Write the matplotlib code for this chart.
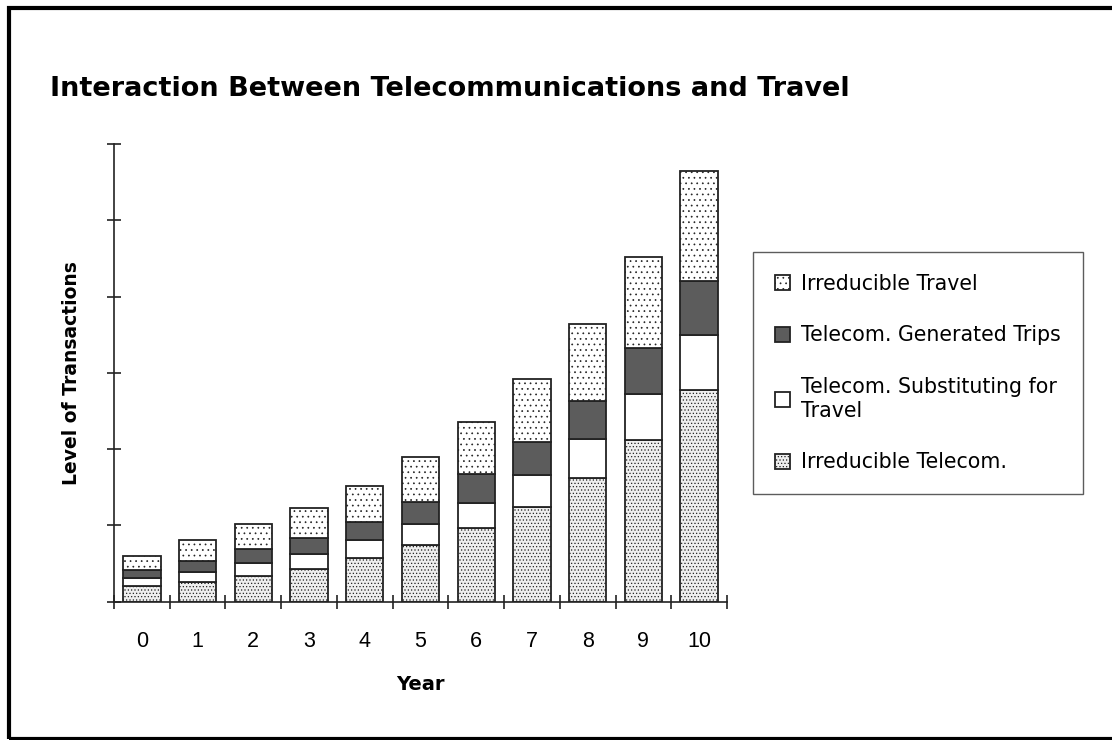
import matplotlib
matplotlib.use("Agg")
import matplotlib.pyplot as plt
import numpy as np
from matplotlib.patches import Rectangle

# données : niveau de transactions par année (unités arbitraires)
annees = [0, 1, 2, 3, 4, 5, 6, 7, 8, 9, 10]
telecom_irreductible = [0.20, 0.26, 0.34, 0.43, 0.57, 0.74, 0.96, 1.24, 1.62, 2.12, 2.77]
telecom_substitution = [0.11, 0.13, 0.17, 0.20, 0.24, 0.28, 0.34, 0.42, 0.51, 0.60, 0.72]
voyages_generes = [0.10, 0.15, 0.18, 0.21, 0.24, 0.29, 0.37, 0.43, 0.50, 0.61, 0.72]
voyages_irreductibles = [0.19, 0.27, 0.33, 0.39, 0.47, 0.59, 0.69, 0.83, 1.01, 1.19, 1.44]

noms = ["Irreducible Telecom.", "Telecom. Substituting for\nTravel",
        "Telecom. Generated Trips", "Irreducible Travel"]

plt.rcParams['font.family'] = ['Liberation Sans', 'DejaVu Sans']
plt.rcParams['hatch.linewidth'] = 0.5
plt.rcParams['hatch.color'] = '#333333'
police_large = ['DejaVu Sans']

fig = plt.figure(figsize=(11.12, 7.4), dpi=100)
ax = fig.add_axes([114/1112, 1-601.7/740, (727-114)/1112, (601.7-144)/740])

x = np.array(annees)
largeur = 0.67
bas = np.zeros(len(annees))
series = [telecom_irreductible, telecom_substitution, voyages_generes, voyages_irreductibles]
styles = [dict(facecolor='#eeeeee', hatch='.....'),
          dict(facecolor='white', hatch=''),
          dict(facecolor='#5c5c5c', hatch=''),
          dict(facecolor='white', hatch='...')]
barres = []
for vals, nom, st in zip(series, noms, styles):
    b = ax.bar(x, vals, largeur, bottom=bas, label=nom, edgecolor='#222222',
               linewidth=1.3, **st)
    barres.append(b)
    bas += np.array(vals)

ax.set_xlim(-0.5, 10.5)
ax.set_ylim(0, 6)
for s in ['top', 'right']:
    ax.spines[s].set_visible(False)
for s in ['left', 'bottom']:
    ax.spines[s].set_linewidth(1.2)
    ax.spines[s].set_color('#222222')

ax.set_yticks(range(0, 7))
ax.set_yticklabels([])
ax.tick_params(axis='y', direction='inout', length=9.5, width=1.2, color='#222222')
ax.set_xticks(annees)
ax.set_xticklabels([str(a) for a in annees], fontsize=15.5)
ax.set_xticks(np.arange(-0.5, 11, 1), minor=True)
ax.tick_params(axis='x', which='major', length=0, pad=21)
ax.tick_params(axis='x', which='minor', direction='inout', length=9.5, width=1.2, color='#222222')

ax.set_xlabel("Year", fontsize=14, fontweight='bold', labelpad=17, family=police_large)
ax.set_ylabel("Level of Transactions", fontsize=13.5, fontweight='bold', va='center',
              family=police_large)
ax.yaxis.set_label_coords(-0.069, 0.5)

fig.text(50/1112, 1-95.7/740, "Interaction Between Telecommunications and Travel",
         fontsize=19.5, fontweight='bold', ha='left', va='baseline', family=police_large)

# légende dans l'ordre inverse de l'empilement
leg = fig.legend(barres[::-1], noms[::-1], loc='upper left',
                 bbox_to_anchor=(753/1112, 1-252/740),
                 prop=dict(family=police_large, size=14.8),
                 frameon=True, fancybox=False, edgecolor='#333333',
                 handlelength=0.75, handleheight=0.75, handletextpad=0.55,
                 labelspacing=1.55, borderpad=1.05, borderaxespad=0)
leg.get_frame().set_linewidth(1.0)
for t in leg.get_texts():
    t.set_linespacing(1.2)

# cadre autour de la figure
fig.patches.append(Rectangle((9/1112, 1.5/740), 1.2, 1-9/740, transform=fig.transFigure,
                             fill=False, edgecolor='black', linewidth=3))

fig.savefig("out.png", dpi=100)
